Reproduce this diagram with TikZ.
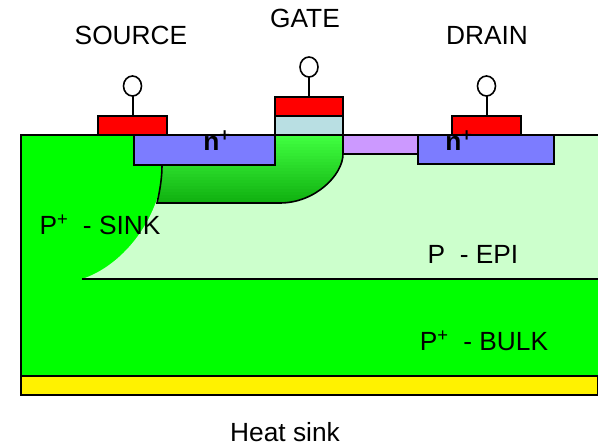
\documentclass[tikz,border=0pt]{standalone}
\usepackage{fontspec}
\setmainfont{Liberation Sans}
\usepackage{tikz}
\usetikzlibrary{positioning, shapes.geometric}

\definecolor{epi}{HTML}{CCFFCC}
\definecolor{chtop}{HTML}{40FF40}
\definecolor{chbot}{HTML}{10B010}
\definecolor{nreg}{HTML}{7C7CFF}
\definecolor{oxide}{HTML}{CC99FF}
\definecolor{gox}{HTML}{B9DFE3}
\newcommand{\chpath}{(275,135) -- (343,135) -- (343,154) .. controls (343,175) and (315,203) .. (280,203) -- (157,203) .. controls (160,190) and (162,178) .. (162,165) -- (275,165) -- cycle}

\begin{document}
\begin{tikzpicture}[
		x=1pt, y=-1pt,
		node distance=20pt,
		line width=1.6pt,
		main/.style = {draw, rectangle, inner sep=0pt, outer sep=0pt, minimum width=#1},
		contact/.style = {main=69pt, fill=red, minimum height=19pt},
		term/.style = {draw, ellipse, fill=white, inner sep=0pt, outer sep=0pt, minimum width=18pt, minimum height=20pt},
		lbl/.style = {inner sep=0pt, font=\fontsize{26.3}{28}\selectfont},
		lblb/.style = {inner sep=0pt, font=\fontsize{26.3}{28}\selectfont\bfseries}
	]
	\useasboundingbox (0,0) rectangle (598,446);
	% Substrate.
	\fill[green] (21,135) rectangle (598,376);
	\fill[epi] (598,135) -- (163,135) -- (163,165) .. controls (162,215) and (125,265) .. (82,279) -- (598,279) -- cycle;
	\draw (82,279) -- (598,279);
	\draw (598,135) -- (21,135) -- (21,395) -- (598,395);
	\filldraw[fill=yellow] (21,376) rectangle (598,395);
	% Channel.
	\begin{scope}
		\clip \chpath;
		\foreach \i in {0,...,22} {
			\pgfmathsetmacro{\mixval}{100-100*\i/22}
			\fill[chtop!\mixval!chbot] (150,135+3*\i) rectangle (350,138.5+3*\i);
		}
	\end{scope}
	\draw \chpath;
	% Doped regions.
	\node[main=141pt, fill=nreg, minimum height=30pt] (ns) at (204.5,150) {};
	\node[main=136pt, fill=nreg, minimum height=29pt] (nd) at (486,149.5) {};
	\node[main=75pt, fill=oxide, minimum height=19pt] (ox) at (380.5,144.5) {};
	% Contacts.
	\node[contact] (src) at (132.5,125.5) {};
	\node[contact] (drn) at (486.5,125.5) {};
	\node[main=68pt, fill=gox, minimum height=19pt] (gox) at (309,125.5) {};
	\node[contact, minimum width=68pt, above=0pt of gox] (gt) {};
	% Terminals.
	\node[term, above=20pt of src] (ts) {};
	\node[term, above=20pt of gt] (tg) {};
	\node[term, above=20pt of drn] (td) {};

	\draw[line width=2pt] (ts) to (src);
	\draw[line width=2pt] (tg) to (gt);
	\draw[line width=2pt] (td) to (drn);

	% Labels.
	\node[lbl] (lsrc) at (131,35) {SOURCE};
	\node[lbl] (lgt) at (305,18) {GATE};
	\node[lbl] (ldrn) at (487,35) {DRAIN};
	\node[lblb] (lns) at (217,141) {n\textsuperscript{+}};
	\node[lblb] (lnd) at (459,141) {n\textsuperscript{+}};
	\node[lbl] (lsink) at (100,225) {P\textsuperscript{+}\ \ - SINK};
	\node[lbl] (lepi) at (473,254) {P\ \ - EPI};
	\node[lbl] (lbulk) at (484,341) {P\textsuperscript{+}\ \ - BULK};
	\node[lbl] (lheat) at (285,432) {Heat sink};
\end{tikzpicture}
\end{document}
